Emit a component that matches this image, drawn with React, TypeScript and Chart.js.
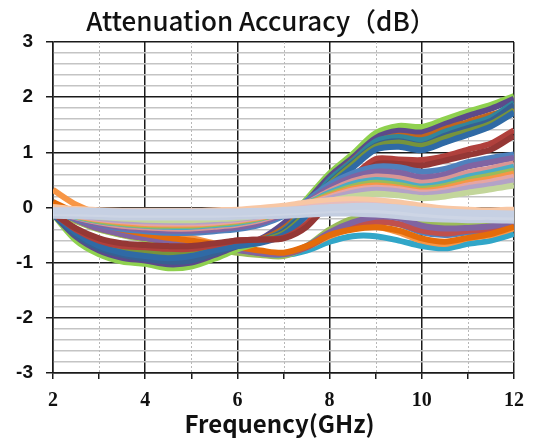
import React, { useEffect, useRef } from "react";
import { Chart, registerables } from "chart.js";

Chart.register(...registerables);

// Frequency samples (GHz)
const freqs = [2, 2.5, 3, 3.5, 4, 4.5, 5, 5.5, 6, 6.5, 7, 7.5, 8, 8.5, 9, 9.5, 10, 10.5, 11, 11.5, 12];

// Near-zero group
const zeroGray1 = [-0.06, -0.06, -0.07, -0.08, -0.08, -0.08, -0.08, -0.08, -0.08, -0.07, -0.05, -0.03, 0.0, 0.02, 0.02, -0.01, -0.05, -0.08, -0.1, -0.11, -0.12];
const zeroGray2 = [-0.14, -0.15, -0.16, -0.17, -0.17, -0.17, -0.17, -0.17, -0.16, -0.15, -0.14, -0.12, -0.1, -0.1, -0.12, -0.15, -0.19, -0.21, -0.22, -0.22, -0.23];
const zeroGray3 = [-0.1, -0.11, -0.12, -0.13, -0.13, -0.13, -0.13, -0.13, -0.12, -0.11, -0.09, -0.07, -0.05, -0.04, -0.05, -0.08, -0.12, -0.15, -0.17, -0.17, -0.18];
const zeroPeach1 = [0.02, -0.02, -0.04, -0.05, -0.05, -0.05, -0.05, -0.04, -0.03, 0.0, 0.04, 0.1, 0.14, 0.16, 0.14, 0.1, 0.04, -0.01, -0.03, -0.04, -0.03];
const zeroPeach2 = [-0.1, -0.1, -0.1, -0.1, -0.1, -0.1, -0.1, -0.1, -0.09, -0.07, -0.04, 0.0, 0.04, 0.06, 0.05, 0.0, -0.07, -0.13, -0.17, -0.19, -0.2];
const zeroPink = [-0.04, -0.06, -0.07, -0.08, -0.08, -0.08, -0.08, -0.07, -0.06, -0.03, 0.01, 0.06, 0.1, 0.12, 0.1, 0.06, 0.0, -0.05, -0.08, -0.09, -0.1];

// Middle rising group (ends 0.4 .. 0.95)
const midBlue = [-0.05, -0.21, -0.31, -0.39, -0.43, -0.46, -0.46, -0.43, -0.39, -0.31, -0.15, 0.12, 0.42, 0.62, 0.74, 0.73, 0.65, 0.7, 0.82, 0.9, 0.96];
const midPurple = [-0.05, -0.2, -0.3, -0.36, -0.4, -0.42, -0.42, -0.4, -0.36, -0.28, -0.12, 0.09, 0.36, 0.55, 0.65, 0.63, 0.55, 0.6, 0.74, 0.82, 0.9];
const midSalmon = [-0.05, -0.18, -0.27, -0.33, -0.36, -0.38, -0.38, -0.35, -0.31, -0.23, -0.1, 0.08, 0.3, 0.48, 0.56, 0.53, 0.45, 0.51, 0.63, 0.71, 0.8];
const midTeal = [-0.05, -0.17, -0.25, -0.3, -0.33, -0.35, -0.35, -0.32, -0.28, -0.2, -0.08, 0.07, 0.27, 0.43, 0.5, 0.46, 0.38, 0.44, 0.56, 0.64, 0.74];
const midGreen = [-0.05, -0.16, -0.24, -0.29, -0.32, -0.33, -0.33, -0.3, -0.26, -0.19, -0.08, 0.06, 0.24, 0.38, 0.45, 0.41, 0.34, 0.39, 0.5, 0.58, 0.67];
const midOrange = [-0.05, -0.15, -0.22, -0.27, -0.3, -0.31, -0.31, -0.28, -0.24, -0.18, -0.07, 0.05, 0.21, 0.34, 0.4, 0.36, 0.3, 0.35, 0.45, 0.52, 0.62];
const midRose = [-0.05, -0.14, -0.21, -0.25, -0.28, -0.29, -0.29, -0.27, -0.23, -0.17, -0.07, 0.05, 0.19, 0.31, 0.36, 0.33, 0.27, 0.31, 0.4, 0.47, 0.56];
const midLavender = [-0.05, -0.13, -0.19, -0.23, -0.25, -0.26, -0.26, -0.24, -0.21, -0.15, -0.06, 0.04, 0.16, 0.27, 0.32, 0.29, 0.23, 0.27, 0.35, 0.41, 0.49];
const midLightGreen = [-0.05, -0.12, -0.17, -0.2, -0.22, -0.23, -0.23, -0.21, -0.19, -0.13, -0.05, 0.03, 0.12, 0.2, 0.25, 0.22, 0.17, 0.2, 0.27, 0.33, 0.4];

// Top group (deep dip, then rises to ~2 dB)
const topGreen = [-0.12, -0.6, -0.85, -0.98, -1.02, -1.1, -1.07, -0.93, -0.76, -0.62, -0.32, 0.15, 0.62, 0.97, 1.35, 1.48, 1.46, 1.6, 1.74, 1.86, 2.02];
const topPurple = [-0.12, -0.53, -0.78, -0.91, -0.96, -1.03, -1.0, -0.86, -0.7, -0.57, -0.29, 0.1, 0.56, 0.9, 1.26, 1.39, 1.36, 1.51, 1.66, 1.79, 1.97];
const topOrange = [-0.1, -0.46, -0.7, -0.82, -0.88, -0.92, -0.9, -0.8, -0.67, -0.58, -0.38, 0.0, 0.48, 0.85, 1.18, 1.3, 1.27, 1.42, 1.55, 1.68, 1.8];
const topBlue = [-0.12, -0.5, -0.74, -0.86, -0.93, -0.98, -0.96, -0.83, -0.69, -0.61, -0.44, -0.06, 0.44, 0.8, 1.12, 1.2, 1.13, 1.3, 1.44, 1.57, 1.86];
const topTeal = [-0.11, -0.48, -0.72, -0.84, -0.9, -0.95, -0.93, -0.8, -0.68, -0.6, -0.42, -0.02, 0.5, 0.84, 1.2, 1.28, 1.22, 1.37, 1.5, 1.63, 1.9];
const topSteel = [-0.1, -0.46, -0.7, -0.82, -0.88, -0.92, -0.88, -0.78, -0.7, -0.64, -0.5, -0.15, 0.38, 0.72, 1.05, 1.1, 1.04, 1.18, 1.32, 1.47, 1.72];
const topOlive = [-0.1, -0.42, -0.64, -0.76, -0.8, -0.83, -0.8, -0.73, -0.66, -0.6, -0.47, -0.1, 0.42, 0.78, 1.1, 1.18, 1.12, 1.26, 1.38, 1.52, 1.76];

// Second group (ends ~1.4 dB)
const redHigh = [-0.1, -0.4, -0.6, -0.7, -0.72, -0.75, -0.75, -0.68, -0.6, -0.58, -0.55, -0.3, 0.2, 0.55, 0.88, 0.87, 0.86, 0.93, 1.05, 1.16, 1.4];
const redLow = [-0.1, -0.38, -0.56, -0.65, -0.68, -0.7, -0.7, -0.65, -0.6, -0.58, -0.56, -0.35, 0.1, 0.45, 0.78, 0.79, 0.76, 0.85, 0.95, 1.05, 1.3];

// Lower group (ends -0.2 .. -0.5)
const lowOrange = [0.32, 0.05, -0.12, -0.25, -0.35, -0.45, -0.55, -0.65, -0.72, -0.8, -0.83, -0.72, -0.52, -0.38, -0.35, -0.45, -0.6, -0.66, -0.56, -0.5, -0.38];
const lowTeal = [0.0, -0.2, -0.35, -0.45, -0.52, -0.58, -0.62, -0.68, -0.75, -0.82, -0.86, -0.78, -0.62, -0.52, -0.52, -0.6, -0.7, -0.74, -0.66, -0.6, -0.48];
const lowGreen = [-0.05, -0.25, -0.4, -0.5, -0.58, -0.65, -0.7, -0.75, -0.82, -0.86, -0.88, -0.7, -0.4, -0.2, -0.12, -0.12, -0.25, -0.3, -0.3, -0.28, -0.2];
const lowBlue = [-0.02, -0.22, -0.38, -0.48, -0.55, -0.62, -0.66, -0.7, -0.77, -0.83, -0.85, -0.72, -0.48, -0.3, -0.25, -0.3, -0.45, -0.5, -0.45, -0.42, -0.32];
const lowRed = [-0.02, -0.22, -0.38, -0.48, -0.55, -0.6, -0.65, -0.7, -0.76, -0.82, -0.84, -0.72, -0.5, -0.34, -0.26, -0.3, -0.42, -0.47, -0.42, -0.4, -0.3];
const lowPurple = [-0.02, -0.22, -0.38, -0.48, -0.55, -0.62, -0.66, -0.7, -0.76, -0.82, -0.84, -0.7, -0.45, -0.27, -0.17, -0.19, -0.33, -0.38, -0.37, -0.34, -0.26];
const lowDarkOrange = [0.1, -0.1, -0.28, -0.4, -0.48, -0.55, -0.6, -0.66, -0.72, -0.78, -0.82, -0.7, -0.5, -0.4, -0.36, -0.42, -0.56, -0.62, -0.55, -0.48, -0.35];

// Axis tick labels
const yTickValues = [-3, -2, -1, 0, 1, 2, 3];
const xTickLabels = [2, 4, 6, 8, 10, 12];

const TITLE = "Attenuation Accuracy（dB）";
const X_TITLE = "Frequency(GHz)";

// [values, color, width] drawn in this order (first = on top)
const seriesList: [number[], string, number][] = [
  [zeroGray1, "#c6d0e3", 7],
  [zeroGray3, "#cdd5e5", 6],
  [zeroGray2, "#c3cde0", 7],
  [zeroPeach1, "#f8c7a4", 5],
  [zeroPink, "#e8bcbb", 5],
  [zeroPeach2, "#f7c09b", 5],
  [midLightGreen, "#c3d69b", 6],
  [midLavender, "#b3a2c7", 6],
  [midRose, "#e6a5a3", 6],
  [midOrange, "#f79646", 6],
  [midGreen, "#9bbb59", 6],
  [midTeal, "#4bacc6", 6],
  [midSalmon, "#d99694", 6],
  [midPurple, "#8064a2", 6],
  [midBlue, "#4f81bd", 6],
  [redLow, "#953735", 6],
  [redHigh, "#b0403c", 6],
  [topSteel, "#2f6aa5", 6],
  [topOlive, "#77933c", 6],
  [topBlue, "#376092", 6],
  [topTeal, "#31859c", 6],
  [topOrange, "#c0661d", 6],
  [topPurple, "#5c4a8a", 6],
  [topGreen, "#8fd14f", 6],
  [lowDarkOrange, "#e46c0a", 6],
  [lowPurple, "#8064a2", 6],
  [lowRed, "#c0504d", 6],
  [lowBlue, "#4f81bd", 6],
  [lowGreen, "#9bbb59", 6],
  [lowOrange, "#f79646", 6],
  [lowTeal, "#31a6c8", 6],
];

const isInt = (v: number) => Math.abs(v - Math.round(v)) < 1e-6;

export default function App() {
  const ref = useRef<HTMLCanvasElement | null>(null);

  useEffect(() => {
    if (!ref.current) return;
    const datasets = seriesList.map(([vals, color, w], i) => ({
      label: "s" + i,
      data: freqs.map((f, j) => ({ x: f, y: vals[j] })),
      borderColor: color,
      backgroundColor: color,
      borderWidth: w,
      pointRadius: 0,
      tension: 0.3,
      fill: false,
    }));

    const minorGrid = {
      id: "minorGrid",
      beforeDatasetsDraw(chart: any) {
        const { ctx, chartArea, scales } = chart;
        const xs = scales.x;
        ctx.save();
        ctx.strokeStyle = "#b8b8b8";
        ctx.lineWidth = 1;
        ctx.setLineDash([2, 2]);
        for (let f = 3; f < 12; f += 2) {
          const px = Math.round(xs.getPixelForValue(f)) + 0.5;
          ctx.beginPath();
          ctx.moveTo(px, chartArea.top);
          ctx.lineTo(px, chartArea.bottom);
          ctx.stroke();
        }
        ctx.restore();
      },
      afterDraw(chart: any) {
        const { ctx, chartArea } = chart;
        ctx.save();
        ctx.fillStyle = "#111";
        ctx.textAlign = "center";
        ctx.textBaseline = "middle";
        ctx.font = "500 26px 'Noto Sans CJK SC', 'Noto Sans', sans-serif";
        ctx.fillText(TITLE, 261, 21);
        ctx.font = "bold 24px 'Noto Sans CJK SC', 'Noto Sans', sans-serif";
        ctx.fillText(X_TITLE, (chartArea.left + chartArea.right) / 2 - 4, 424);
        ctx.restore();
      },
    };

    const chart = new Chart(ref.current, {
      type: "line",
      data: { datasets },
      plugins: [minorGrid],
      options: {
        responsive: false,
        animation: false,
        layout: { padding: { left: 0, top: 42, right: 16, bottom: 0 } },
        plugins: {
          legend: { display: false },
          tooltip: { enabled: false },
          title: { display: false },
        },
        scales: {
          x: {
            type: "linear",
            min: 2,
            max: 12,
            afterFit: (s: any) => {
              s.height = 73;
            },
            ticks: {
              stepSize: 1,
              autoSkip: false,
              maxRotation: 0,
              padding: 10,
              color: "#111",
              font: { family: "'Liberation Serif', serif", size: 20, weight: "bold" },
              callback: (v: any) => (xTickLabels.includes(Number(v)) ? String(v) : ""),
            },
            grid: {
              color: (c: any) => (c.tick && Math.round(c.tick.value) % 2 === 0 ? "#1a1a1a" : "rgba(0,0,0,0)"),
              lineWidth: 1.5,
              tickColor: "#1a1a1a",
              tickLength: 6,
              tickWidth: 1.5,
            },
            border: { color: "#1a1a1a", width: 1.5 },
          },
          y: {
            type: "linear",
            min: -3,
            max: 3,
            afterFit: (s: any) => {
              s.width = 53;
            },
            ticks: {
              stepSize: 0.2,
              autoSkip: false,
              padding: 13,
              color: "#111",
              font: { family: "'Liberation Sans', Arial, sans-serif", size: 19, weight: "bold" },
              callback: (v: any) => {
                const n = Number(v);
                if (!isInt(n)) return "";
                const r = Math.round(n);
                return yTickValues.includes(r) ? String(r) : "";
              },
            },
            grid: {
              color: (c: any) => (c.tick && isInt(c.tick.value) ? "#1a1a1a" : "#c4c4c4"),
              lineWidth: (c: any) => (c.tick && isInt(c.tick.value) ? 1.5 : 1.6),
              tickColor: (c: any) => (c.tick && isInt(c.tick.value) ? "#1a1a1a" : "rgba(0,0,0,0)"),
              tickLength: 7,
              tickWidth: 1.5,
            },
            border: { color: "#1a1a1a", width: 1.5 },
          },
        },
      },
    });
    return () => chart.destroy();
  }, []);

  return (
    <div style={{ position: "fixed", left: 0, top: 0, width: 534, height: 446, background: "#fff" }}>
      <canvas ref={ref} width={534} height={446} />
    </div>
  );
}
